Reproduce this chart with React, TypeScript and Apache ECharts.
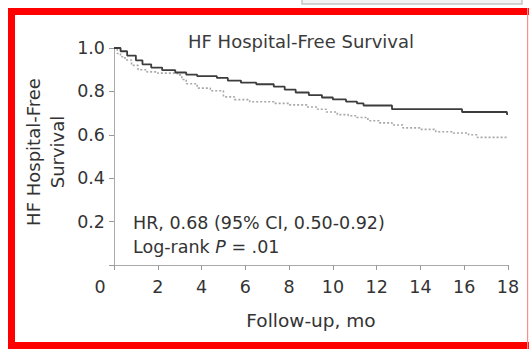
import React, { useEffect, useRef } from "react";
import * as echarts from "echarts";

const titleText = "HF Hospital-Free Survival";
const yAxisTitle = "HF Hospital-Free\nSurvival";
const xAxisTitle = "Follow-up, mo";
const hrText = "HR, 0.68 (95% CI, 0.50-0.92)";
const logRankPrefix = "Log-rank ";
const logRankP = "P";
const logRankValue = " = .01";

const xTicks = [0, 2, 4, 6, 8, 10, 12, 14, 16, 18];
const yTicks = [0, 0.2, 0.4, 0.6, 0.8, 1.0];

// Treatment (dark solid) Kaplan-Meier curve: [month, survival]
const treatmentTimes = [0, 0.3, 0.6, 1.0, 1.3, 1.7, 2.2, 2.8, 3.3, 3.8, 4.7, 5.2, 5.8, 6.5, 7.3, 7.8, 8.3, 8.9, 9.5, 10.0, 10.6, 11.1, 11.4, 12.7, 15.9, 17.95, 18];
const treatmentSurv = [1.0, 0.985, 0.965, 0.943, 0.925, 0.91, 0.898, 0.887, 0.877, 0.87, 0.862, 0.85, 0.84, 0.833, 0.822, 0.808, 0.795, 0.783, 0.772, 0.763, 0.753, 0.745, 0.735, 0.718, 0.705, 0.695, 0.695];

// Control (light dotted) Kaplan-Meier curve
const controlTimes = [0, 0.15, 0.3, 0.5, 0.8, 1.1, 1.5, 2.0, 2.9, 3.1, 3.3, 3.8, 4.4, 5.0, 5.5, 6.2, 7.3, 8.0, 8.8, 9.3, 9.7, 10.2, 10.7, 11.1, 11.6, 12.1, 12.7, 13.2, 14.0, 14.7, 15.5, 16.2, 16.6, 18];
const controlSurv = [1.0, 0.975, 0.96, 0.945, 0.92, 0.9, 0.89, 0.884, 0.876, 0.855, 0.835, 0.815, 0.803, 0.775, 0.762, 0.752, 0.745, 0.738, 0.728, 0.718, 0.705, 0.693, 0.688, 0.68, 0.665, 0.655, 0.645, 0.632, 0.625, 0.614, 0.608, 0.6, 0.588, 0.585];

const FONT = "DejaVu Sans";
const TEXT = "#333";

export default function App() {
  const ref = useRef<HTMLDivElement>(null);

  useEffect(() => {
    document.body.style.margin = "0";
    const chart = echarts.init(ref.current!, null, { renderer: "svg" });
    const treatment = treatmentTimes.map((t, i) => [t, treatmentSurv[i]]);
    const control = controlTimes.map((t, i) => [t, controlSurv[i]]);

    chart.setOption({
      animation: false,
      backgroundColor: "#fff",
      grid: { left: 114, right: 21, top: 48, bottom: 86, containLabel: false },
      xAxis: {
        type: "value",
        min: xTicks[0],
        max: xTicks[xTicks.length - 1],
        interval: 2,
        name: xAxisTitle,
        nameLocation: "middle",
        nameGap: 46,
        nameTextStyle: { fontFamily: FONT, fontSize: 18.5, color: TEXT },
        axisLine: { show: true, lineStyle: { color: "#aaa", width: 1 } },
        axisTick: { show: true, length: 5, lineStyle: { color: "#999" } },
        splitLine: { show: false },
        axisLabel: {
          margin: 13,
          fontFamily: FONT,
          fontSize: 17.5,
          color: TEXT,
          formatter: (v: number) => (v === 0 ? "{z|0}" : String(v)),
          rich: { z: { fontFamily: FONT, fontSize: 17.5, color: TEXT, padding: [0, 28, 0, 0] } },
        },
      },
      yAxis: {
        type: "value",
        min: yTicks[0],
        max: yTicks[yTicks.length - 1],
        interval: 0.2,
        axisLine: { show: true, lineStyle: { color: "#aaa", width: 1 } },
        axisTick: { show: true, length: 5, lineStyle: { color: "#999" } },
        splitLine: { show: false },
        axisLabel: {
          margin: 9,
          fontFamily: FONT,
          fontSize: 17.5,
          color: TEXT,
          formatter: (v: number) => (v === 0 ? "" : v.toFixed(1)),
        },
      },
      series: [
        {
          type: "line",
          name: "Control",
          data: control,
          step: "end",
          symbol: "none",
          lineStyle: { color: "#a8a8a8", width: 1.6, type: [2, 2] },
          z: 2,
        },
        {
          type: "line",
          name: "Treatment",
          data: treatment,
          step: "end",
          symbol: "none",
          lineStyle: { color: "#3c3c3c", width: 1.8 },
          z: 3,
        },
      ],
      graphic: [
        { type: "rect", shape: { x: 302, y: -8, width: 220, height: 12 }, style: { fill: "#f3f3f3", stroke: "#c4c4c4", lineWidth: 1.5 } },
        { type: "rect", shape: { x: 8, y: 8, width: 521, height: 7 }, style: { fill: "#ff0000" } },
        { type: "rect", shape: { x: 8, y: 8, width: 7, height: 341 }, style: { fill: "#ff0000" } },
        { type: "rect", shape: { x: 8, y: 342, width: 521, height: 7 }, style: { fill: "#ff0000" } },
        { type: "rect", shape: { x: 527, y: 8, width: 1.2, height: 341 }, style: { fill: "#ff8c8c" } },
        {
          type: "text",
          x: 301,
          y: 41,
          style: { text: titleText, fontFamily: FONT, fontSize: 18, fill: "#3a3a3a", align: "center", verticalAlign: "middle" },
        },
        {
          type: "text",
          x: 45,
          y: 152,
          rotation: Math.PI / 2,
          style: { text: yAxisTitle, fontFamily: FONT, fontSize: 18, lineHeight: 24, fill: TEXT, align: "center", verticalAlign: "middle" },
        },
        {
          type: "text",
          x: 133,
          y: 223,
          style: { text: hrText, fontFamily: FONT, fontSize: 17.5, fill: TEXT, align: "left", verticalAlign: "middle" },
        },
        {
          type: "text",
          x: 133,
          y: 247,
          style: {
            text: `{n|${logRankPrefix}}{i|${logRankP}}{n|${logRankValue}}`,
            align: "left",
            verticalAlign: "middle",
            rich: {
              n: { fontFamily: FONT, fontSize: 17.5, fill: TEXT, color: TEXT },
              i: { fontFamily: FONT, fontSize: 17.5, fontStyle: "italic", fill: TEXT, color: TEXT },
            },
          },
        },
      ],
    });

    return () => chart.dispose();
  }, []);

  return <div ref={ref} style={{ position: "fixed", left: 0, top: 0, width: 529, height: 351 }} />;
}
